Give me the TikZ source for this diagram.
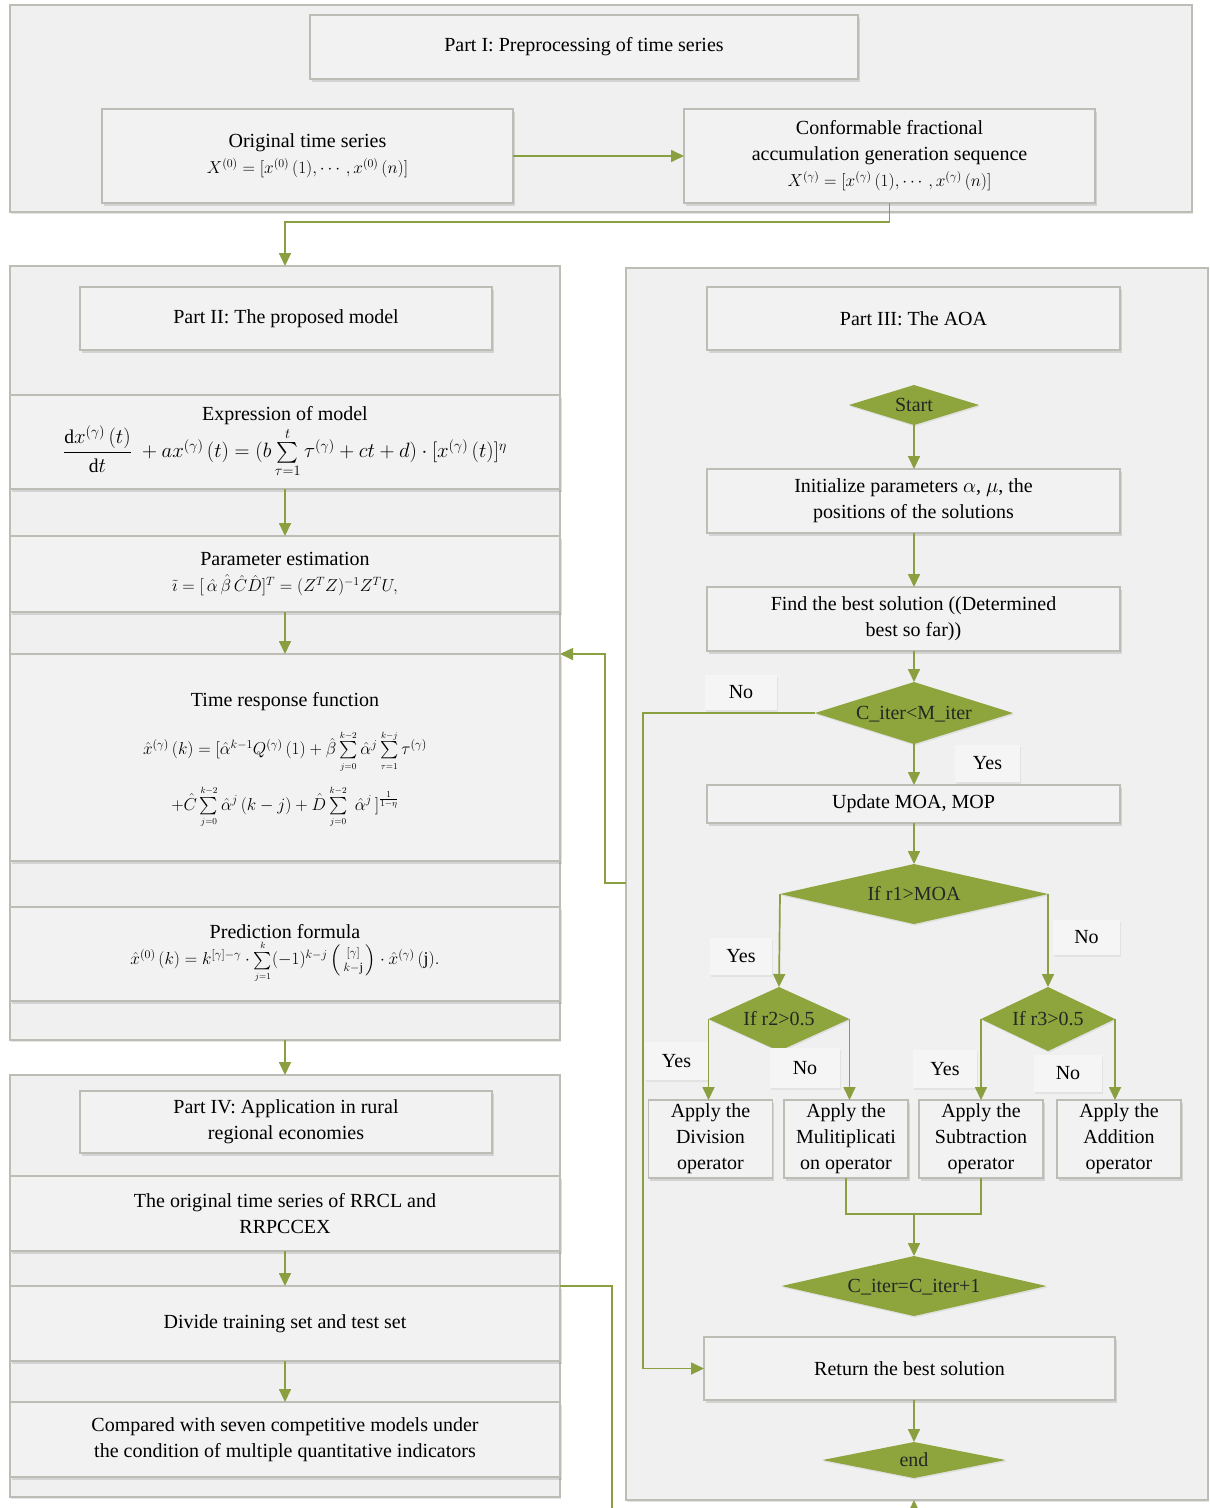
\documentclass[tikz,border=0pt]{standalone}
\usepackage{amsmath}
\usepackage{fontspec}
\setmainfont{Liberation Serif}
\usetikzlibrary{arrows.meta,shapes.geometric,shadows}
\definecolor{panelfill}{HTML}{F0F0F0}
\definecolor{boxfill}{HTML}{F2F2F2}
\definecolor{edgegray}{HTML}{BDBDB5}
\definecolor{olivefill}{HTML}{8DA53C}
\definecolor{oliveline}{HTML}{8A9F40}
\definecolor{lblfill}{HTML}{F5F5F5}
\newcommand\dtext[1]{\makebox[0pt]{\raisebox{-6.5pt}[0pt][0pt]{#1}}}
\newcommand\Sm[2]{\mathop{\textstyle\sum}\limits_{\scriptscriptstyle #1}^{\scriptscriptstyle #2}}
\newcommand\fml{\fontsize{18}{22}\selectfont}
\newcommand\fmlb{\fontsize{19.5}{24}\selectfont}
\tikzset{
  panel/.style={draw=edgegray, line width=1.5pt, fill=panelfill, inner sep=0pt, outer sep=0pt,
    drop shadow={shadow xshift=1pt, shadow yshift=-1.5pt, opacity=0.2}},
  box/.style={draw=edgegray, line width=1.5pt, fill=boxfill, inner sep=0pt, outer sep=0pt, align=center,
    drop shadow={shadow xshift=1.5pt, shadow yshift=-2.5pt, opacity=0.25}},
  band/.style={box, minimum width=550pt},
  widebox/.style={box, minimum width=412pt},
  opbox/.style={box, minimum width=124pt, minimum height=78pt},
  dia/.style={diamond, fill=olivefill, draw=none, inner sep=0pt, outer sep=0pt, text=black!85,
    drop shadow={shadow xshift=1pt, shadow yshift=-1.5pt, opacity=0.15}},
  lbl/.style={fill=lblfill, draw=none, inner sep=0pt, outer sep=0pt,
    drop shadow={shadow xshift=1pt, shadow yshift=-1.5pt, opacity=0.12}},
  conn/.style={draw=oliveline, line width=1.7pt},
  arr/.style={conn, -{Triangle[length=13pt,width=12pt]}},
}
\begin{document}
\begin{tikzpicture}[x=1pt,y=-1pt,font=\fontsize{20}{26}\selectfont]
\useasboundingbox (0,0) rectangle (1210,1508);
\fill[white] (0,0) rectangle (1210,1508);

% ---------- Part I ----------
\node[panel, minimum width=1182pt, minimum height=207pt] (p1) at (601,108.5) {};
\node[box, minimum width=548pt, minimum height=64pt] (t1) at (584,47) {Part I: Preprocessing of time series};
\node[box, minimum width=411pt, minimum height=94pt] (orig) at (307.5,156)
  {Original time series\\ {\fml$X^{(0)}=[x^{(0)}\,(1),\cdots,x^{(0)}\,(n)]$}};
\node[box, minimum width=411pt, minimum height=94pt] (conf) at (889.5,156)
  {Conformable fractional\\ accumulation generation sequence\\ {\fml$X^{(\gamma)}=[x^{(\gamma)}\,(1),\cdots,x^{(\gamma)}\,(n)]$}};

% ---------- Part II ----------
\node[panel, minimum width=550pt, minimum height=774pt] (p2) at (285,653) {};
\node[widebox, minimum height=63pt] (t2) at (286,318.5) {Part II: The proposed model};
\node[band, minimum height=94pt] (expr) at (285,442)
  {Expression of model\\[0pt]
   {\fmlb$\dfrac{\mathrm{d}x^{(\gamma)}\,(t)}{\mathrm{d}t}\;+ax^{(\gamma)}\,(t)=(b\mathop{\textstyle\sum}\limits_{\tau=1}^{t}\tau^{(\gamma)}+ct+d)\cdot[x^{(\gamma)}\,(t)]^{\eta}$}};
\node[band, minimum height=76pt] (param) at (285,574)
  {Parameter estimation\\ {\fml$\tilde{\imath}=[\,\hat{\alpha}\,\hat{\beta}\,\hat{C}\hat{D}]^{T}=(Z^{T}Z)^{-1}Z^{T}U,$}};
\node[band, minimum height=207pt] (tresp) at (285,757.5)
  {\raisebox{0pt}[20pt][0pt]{Time response function}\\[22pt]
   {\fml$\hat{x}^{(\gamma)}\,(k)=[\hat{\alpha}^{k-1}Q^{(\gamma)}\,(1)+\hat{\beta}\Sm{j=0}{k-2}\hat{\alpha}^{j}\Sm{\tau=1}{k-j}\tau^{(\gamma)}$}\\[12pt]
   {\fml$+\hat{C}\Sm{j=0}{k-2}\hat{\alpha}^{j}\,(k-j)+\hat{D}\Sm{j=0}{k-2}\;\hat{\alpha}^{j}\,]^{\frac{1}{1-\eta}}$}};
\node[band, minimum height=94pt] (pred) at (285,954)
  {Prediction formula\\
   {\fml$\hat{x}^{(0)}\,(k)=k^{[\gamma]-\gamma}\cdot\Sm{j=1}{k}(-1)^{k-j}\left(\begin{smallmatrix}[\gamma]\\[2pt] k-\mathrm{j}\end{smallmatrix}\right)\cdot\hat{x}^{(\gamma)}\,(\mathrm{j}).$}};

% ---------- Part IV ----------
\node[panel, minimum width=550pt, minimum height=422pt] (p4) at (285,1286) {};
\node[widebox, minimum height=62pt] (t4) at (286,1122) {Part IV: Application in rural\\ regional economies};
\node[band, minimum height=75pt] (rrcl) at (285,1213.5) {The original time series of RRCL and\\ RRPCCEX};
\node[band, minimum height=75pt] (divide) at (285,1323.5) {Divide training set and test set};
\node[band, minimum height=75pt] (comp) at (285,1439.5) {Compared with seven competitive models under\\ the condition of multiple quantitative indicators};

% ---------- Part III ----------
\node[panel, minimum width=582pt, minimum height=1232pt] (p3) at (917,884) {};
\node[widebox, minimum width=413pt, minimum height=63pt] (t3) at (913.5,318.5) {Part III: The AOA};
\node[dia, minimum width=130pt, minimum height=40pt] (start) at (914,405) {\dtext{Start}};
\node[widebox, minimum width=413pt, minimum height=64pt] (init) at (913.5,501)
  {Initialize parameters $\alpha$, $\mu$, the\\ positions of the solutions};
\node[widebox, minimum width=413pt, minimum height=64pt] (find) at (913.5,619)
  {Find the best solution ((Determined\\ best so far))};
\node[dia, minimum width=198pt, minimum height=62pt] (citer) at (914,713) {\dtext{C\_iter<M\_iter}};
\node[widebox, minimum width=413pt, minimum height=38pt] (update) at (913.5,804) {Update MOA, MOP};
\node[dia, minimum width=268pt, minimum height=60pt] (r1) at (914,894) {\dtext{If r1>MOA}};
\node[dia, minimum width=141pt, minimum height=64pt] (r2) at (779,1019) {\dtext{If r2>0.5}};
\node[dia, minimum width=134pt, minimum height=64pt] (r3) at (1048,1019) {\dtext{If r3>0.5}};
\node[opbox] (div) at (710.5,1139) {Apply the\\ Division\\ operator};
\node[opbox] (mul) at (846,1139) {Apply the\\ Mulitiplicati\\ on operator};
\node[opbox] (sub) at (981,1139) {Apply the\\ Subtraction\\ operator};
\node[opbox] (add) at (1119,1139) {Apply the\\ Addition\\ operator};
\node[dia, minimum width=265pt, minimum height=60pt] (inc) at (914,1286) {\dtext{C\_iter=C\_iter+1}};
\node[widebox, minimum width=411pt, minimum height=63pt] (ret) at (909.5,1368.5) {Return the best solution};
\node[dia, minimum width=183pt, minimum height=36pt] (end) at (914,1460) {\dtext{end}};

% labels
\node[lbl, minimum width=72pt, minimum height=35pt] (lno1) at (741,692.5) {No};
\node[lbl, minimum width=65pt, minimum height=37pt] (lyes1) at (987.5,763.5) {Yes};
\node[lbl, minimum width=62pt, minimum height=37pt] (lyes2) at (741,956.5) {Yes};
\node[lbl, minimum width=67pt, minimum height=35pt] (lno2) at (1086.5,937.5) {No};
\node[lbl, minimum width=63pt, minimum height=38pt] (lyes3) at (676.5,1061) {Yes};
\node[lbl, minimum width=70pt, minimum height=40pt] (lno3) at (805,1068) {No};
\node[lbl, minimum width=64pt, minimum height=38pt] (lyes4) at (945,1069) {Yes};
\node[lbl, minimum width=68pt, minimum height=37pt] (lno4) at (1068,1073.5) {No};

% ---------- connectors ----------
\draw[arr] (orig.east) -- (conf.west);
\draw[arr] (conf.south) -- ++(0,19) -| (p2.north);
\draw[arr] (expr.south) -- (param.north);
\draw[arr] (param.south) -- (tresp.north);
\draw[arr] (p2.south) -- (p4.north);
\draw[arr] (rrcl.south) -- (divide.north);
\draw[arr] (divide.south) -- (comp.north);

\draw[arr] (start.south) -- (init.north -| start.south);
\draw[arr] (init.south -| start.south) -- (find.north -| start.south);
\draw[arr] (find.south -| citer.north) -- (citer.north);
\draw[arr] (citer.south) -- (update.north -| citer.south);
\draw[arr] (update.south -| r1.north) -- (r1.north);
\draw[arr] (r1.west) -- (r2.north);
\draw[arr] (r1.east) -- (r3.north);
\draw[arr] (r2.west) -- (r2.west |- div.north);
\draw[arr] (r2.east) -- (r2.east |- mul.north);
\draw[arr] (r3.west) -- (r3.west |- sub.north);
\draw[arr] (r3.east) -- (r3.east |- add.north);
\coordinate (jn) at (914,1214);
\draw[conn] (mul.south) |- (jn) -| (sub.south);
\draw[arr] (jn) -- (inc.north);
\draw[arr] (ret.south -| end.north) -- (end.north);
\coordinate (nb) at (643,713);
\draw[arr] (citer.west) -- (nb) |- (ret.west);

\coordinate (fb) at (605,883);
\draw[arr] (p3.west |- fb) -- (fb) |- (tresp.north east);
\coordinate (dn) at (612,1530);
\draw[arr] (divide.north east) -| (dn) -| (p3.south -| end.south);
\end{tikzpicture}
\end{document}
